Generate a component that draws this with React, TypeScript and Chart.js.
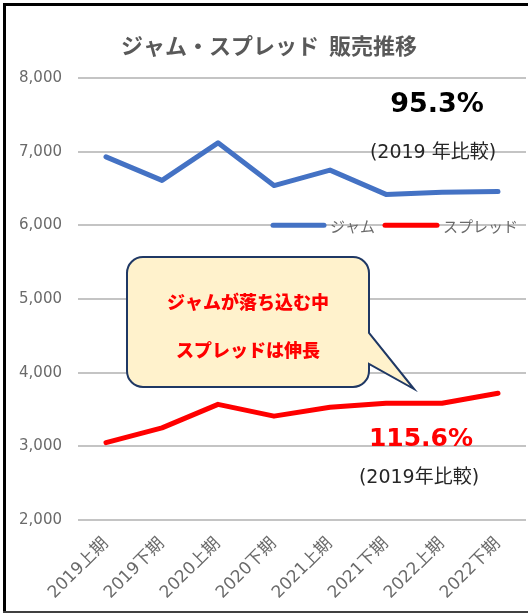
import React, { useEffect, useRef } from 'react';
import { Chart, registerables } from 'chart.js';

Chart.register(...registerables);

const categories = ['2019上期', '2019下期', '2020上期', '2020下期', '2021上期', '2021下期', '2022上期', '2022下期'];
const jamValues = [6930, 6610, 7120, 6540, 6750, 6420, 6450, 6460];
const spreadValues = [3050, 3250, 3570, 3410, 3530, 3585, 3585, 3720];
const seriesNames = ['ジャム', 'スプレッド'];
const seriesColors = ['#4472C4', '#FF0000'];
const yMin = 2000;
const yMax = 8000;
const yStep = 1000;
const chartTitle = 'ジャム・スプレッド  販売推移';
const jamRatio = '95.3%';
const jamNote = '(2019 年比較)';
const spreadRatio = '115.6%';
const spreadNote = '(2019年比較)';
const calloutLines = ['ジャムが落ち込む中', 'スプレッドは伸長'];

const JP = '"Noto Sans CJK JP"';
const LATIN = '"DejaVu Sans", "Noto Sans CJK JP"';

const decorPlugin = {
  id: 'decor',
  beforeDraw(chart: any) {
    const ctx = chart.ctx;
    ctx.save();
    ctx.fillStyle = '#FFFFFF';
    ctx.fillRect(0, 0, chart.width, chart.height);
    ctx.restore();
  },
  afterDraw(chart: any) {
    const ctx = chart.ctx;
    ctx.save();

    // Title
    ctx.fillStyle = '#595959';
    ctx.font = `bold 22px ${JP}`;
    ctx.textAlign = 'center';
    ctx.textBaseline = 'middle';
    ctx.fillText(chartTitle, 269, 46);

    // Legend
    const legendY = chart.scales.y.getPixelForValue(6000);
    const items = [
      { x1: 273, x2: 324, tx: 330 },
      { x1: 385, x2: 437, tx: 443 },
    ];
    chart.data.datasets.forEach((ds: any, i: number) => {
      const it = items[i];
      ctx.strokeStyle = ds.borderColor;
      ctx.lineWidth = 5;
      ctx.lineCap = 'round';
      ctx.beginPath();
      ctx.moveTo(it.x1, legendY);
      ctx.lineTo(it.x2, legendY);
      ctx.stroke();
      ctx.fillStyle = '#6A6A6A';
      ctx.font = `15px ${JP}`;
      ctx.textAlign = 'left';
      ctx.textBaseline = 'middle';
      ctx.fillText(ds.label, it.tx, legendY + 1);
    });

    // Ratio annotations
    ctx.textAlign = 'center';
    ctx.textBaseline = 'middle';
    ctx.fillStyle = '#000000';
    ctx.font = `bold 27px ${LATIN}`;
    ctx.fillText(jamRatio, 437, 105);
    ctx.fillStyle = '#262626';
    ctx.font = `19px ${LATIN}`;
    ctx.fillText(jamNote, 433, 153);

    ctx.fillStyle = '#FF0000';
    ctx.font = `bold 25px ${LATIN}`;
    ctx.fillText(spreadRatio, 421, 439);
    ctx.fillStyle = '#262626';
    ctx.font = `19px ${LATIN}`;
    ctx.fillText(spreadNote, 419, 478);

    // Callout
    const L = 127, R = 369, T = 257, B = 387, r = 16;
    ctx.beginPath();
    ctx.moveTo(L + r, T);
    ctx.lineTo(R - r, T);
    ctx.arcTo(R, T, R, T + r, r);
    ctx.lineTo(R, 333);
    ctx.lineTo(414, 389);
    ctx.lineTo(R, 364);
    ctx.lineTo(R, B - r);
    ctx.arcTo(R, B, R - r, B, r);
    ctx.lineTo(L + r, B);
    ctx.arcTo(L, B, L, B - r, r);
    ctx.lineTo(L, T + r);
    ctx.arcTo(L, T, L + r, T, r);
    ctx.closePath();
    ctx.fillStyle = '#FFF2CC';
    ctx.fill();
    ctx.strokeStyle = '#1F3864';
    ctx.lineWidth = 2;
    ctx.lineJoin = 'miter';
    ctx.stroke();

    ctx.fillStyle = '#FF0000';
    ctx.font = `900 18px ${JP}`;
    ctx.textAlign = 'center';
    ctx.textBaseline = 'middle';
    ctx.fillText(calloutLines[0], 248, 302);
    ctx.fillText(calloutLines[1], 248, 350);

    // Outer frame
    ctx.fillStyle = '#000000';
    ctx.fillRect(3, 3, chart.width - 3, 3);
    ctx.fillRect(3, 3, 3, chart.height - 4);
    ctx.fillStyle = '#404040';
    ctx.fillRect(3, chart.height - 3, chart.width - 3, 2);

    ctx.restore();
  },
};

export default function App() {
  const ref = useRef<HTMLCanvasElement | null>(null);

  useEffect(() => {
    if (!ref.current) return;
    const chart = new Chart(ref.current, {
      type: 'line',
      data: {
        labels: categories,
        datasets: [
          {
            label: seriesNames[0],
            data: jamValues,
            borderColor: seriesColors[0],
            backgroundColor: seriesColors[0],
            borderWidth: 5,
            borderCapStyle: 'round',
            borderJoinStyle: 'round',
            pointRadius: 0,
            tension: 0,
            fill: false,
          },
          {
            label: seriesNames[1],
            data: spreadValues,
            borderColor: seriesColors[1],
            backgroundColor: seriesColors[1],
            borderWidth: 5,
            borderCapStyle: 'round',
            borderJoinStyle: 'round',
            pointRadius: 0,
            tension: 0,
            fill: false,
          },
        ],
      },
      options: {
        responsive: false,
        animation: false,
        layout: { padding: { top: 78, right: 2, left: 0, bottom: 0 } },
        plugins: {
          legend: { display: false },
          title: { display: false },
          tooltip: { enabled: false },
        },
        scales: {
          x: {
            offset: true,
            grid: { display: false, drawTicks: false },
            border: { display: false },
            ticks: {
              color: '#6A6A6A',
              font: { family: LATIN, size: 17 },
              minRotation: 45,
              maxRotation: 45,
              padding: 14,
              autoSkip: false,
            },
            afterFit: (scale: any) => {
              scale.height = 94;
            },
          },
          y: {
            min: yMin,
            max: yMax,
            grid: { color: '#C4C4C4', lineWidth: 2, drawTicks: false },
            border: { display: false },
            ticks: {
              stepSize: yStep,
              color: '#6A6A6A',
              font: { family: LATIN, size: 15 },
              padding: 16,
              callback: (v: any) => Number(v).toLocaleString('en-US'),
            },
            afterFit: (scale: any) => {
              scale.width = 78;
            },
          },
        },
      },
      plugins: [decorPlugin],
    });
    return () => chart.destroy();
  }, []);

  return (
    <div style={{ position: 'absolute', left: 0, top: 0, width: 528, height: 614, background: '#fff' }}>
      <canvas ref={ref} width={528} height={614} style={{ display: 'block' }} />
    </div>
  );
}
